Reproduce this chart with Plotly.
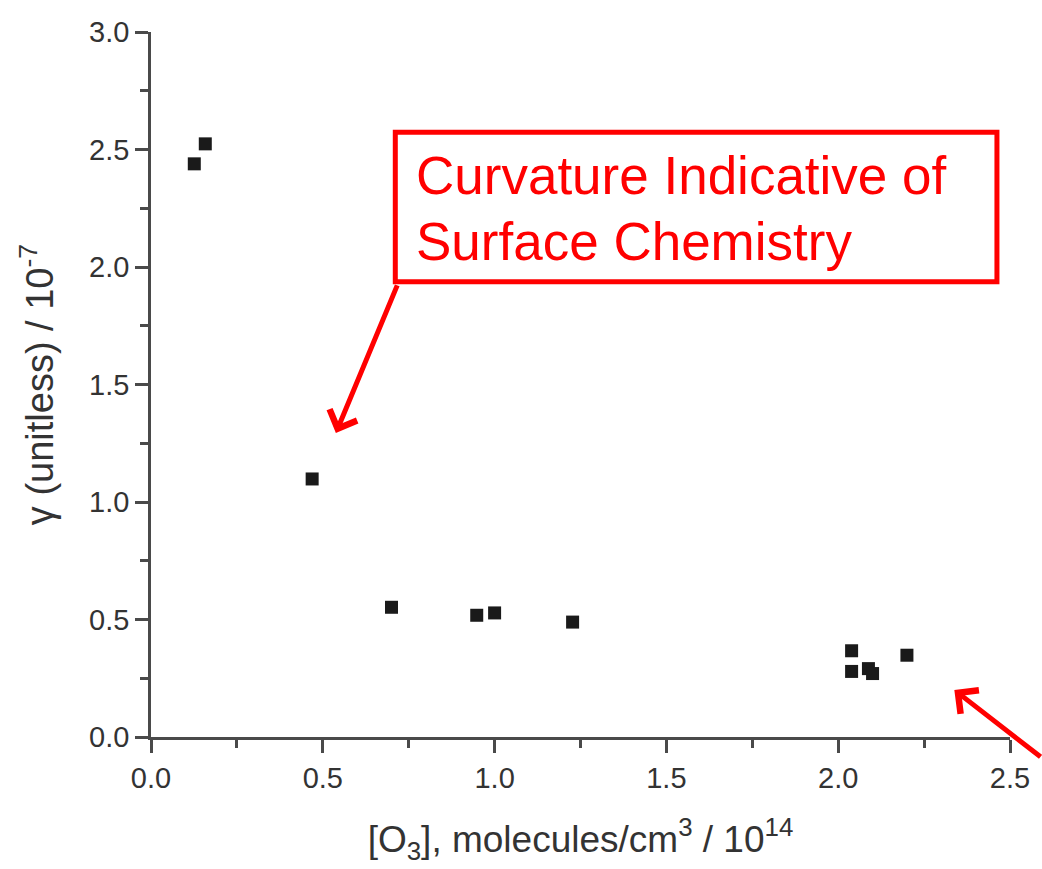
import plotly.graph_objects as go

# Data
o3_conc = [0.126, 0.158, 0.469, 0.700, 0.948, 1.000, 1.227, 2.039, 2.039, 2.088, 2.100, 2.200]
gamma = [2.439, 2.524, 1.098, 0.552, 0.518, 0.528, 0.489, 0.367, 0.279, 0.291, 0.270, 0.348]

x_ticks = [0.0, 0.5, 1.0, 1.5, 2.0, 2.5]
y_ticks = [0.0, 0.5, 1.0, 1.5, 2.0, 2.5, 3.0]

FONT = "Liberation Sans, Arial, sans-serif"
AX = "#4a4a4a"
RED = "#ff0000"

fig = go.Figure()
fig.add_trace(go.Scatter(
    x=o3_conc, y=gamma, mode="markers",
    marker=dict(symbol="square", size=13, color="#1a1a1a"),
    showlegend=False, cliponaxis=False,
))

axis_common = dict(
    showline=True, linecolor=AX, linewidth=2.5,
    ticks="outside", ticklen=13, tickwidth=2.5, tickcolor=AX,
    showgrid=False, zeroline=False,
    tickfont=dict(family=FONT, size=29, color="#333333"),
    minor=dict(ticks="outside", ticklen=8, tickwidth=2.5, tickcolor=AX, dtick=0.25, showgrid=False),
)

fig.update_xaxes(
    range=[0, 2.5], tickvals=x_ticks, ticktext=[f"{v:.1f}" for v in x_ticks],
    title=dict(text="[O<sub>3</sub>], molecules/cm<sup>3</sup> / 10<sup>14</sup>",
               font=dict(family=FONT, size=37, color="#333333"), standoff=34),
    **axis_common,
)
fig.update_yaxes(
    range=[0, 3.0], tickvals=y_ticks, ticktext=[f"{v:.1f}" for v in y_ticks],
    title=dict(text="γ (unitless) / 10<sup>-7</sup>",
               font=dict(family=FONT, size=38, color="#333333"), standoff=24),
    **axis_common,
)

# Callout box
fig.add_shape(type="rect", xref="x", yref="y", x0=0.711, x1=2.462, y0=1.937, y1=2.573,
              line=dict(color=RED, width=5), fillcolor="rgba(0,0,0,0)")

fig.add_annotation(x=0.766, y=2.39, xref="x", yref="y", text="Curvature Indicative of",
                   showarrow=False, xanchor="left", yanchor="middle",
                   font=dict(family=FONT, size=53, color=RED))
fig.add_annotation(x=0.766, y=2.11, xref="x", yref="y", text="Surface Chemistry",
                   showarrow=False, xanchor="left", yanchor="middle",
                   font=dict(family=FONT, size=53, color=RED))

# Arrows
fig.add_annotation(x=0.538, y=1.294, xref="x", yref="y", text="", showarrow=True,
                   ax=62, ay=-149, arrowhead=4, arrowsize=1.15, arrowwidth=5,
                   arrowcolor=RED, standoff=0)
fig.add_annotation(x=2.338, y=0.20, xref="x", yref="y", text="", showarrow=True,
                   ax=115, ay=68, arrowhead=4, arrowsize=1.15, arrowwidth=5,
                   arrowcolor=RED, standoff=0)

fig.update_layout(
    width=1042, height=869,
    margin=dict(l=151, r=26, t=32, b=132),
    paper_bgcolor="white", plot_bgcolor="white",
    font=dict(family=FONT),
)

fig.write_html("out.html")
